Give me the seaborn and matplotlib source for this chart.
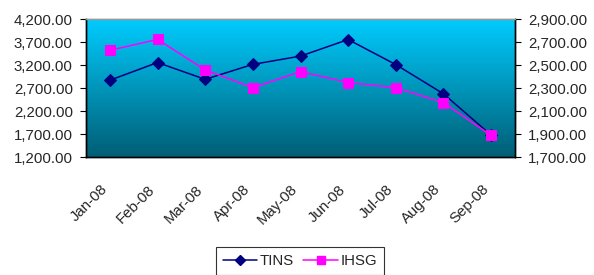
import numpy as np
import pandas as pd
import matplotlib
matplotlib.use("Agg")
import matplotlib.pyplot as plt
import seaborn as sns
from matplotlib.colors import LinearSegmentedColormap
from matplotlib.lines import Line2D

months = ["Jan-08", "Feb-08", "Mar-08", "Apr-08", "May-08", "Jun-08", "Jul-08", "Aug-08", "Sep-08"]
tins = [2875, 3260, 2895, 3220, 3400, 3760, 3215, 2580, 1680]
ihsg = [2630, 2725, 2460, 2305, 2445, 2350, 2305, 2175, 1890]
left_ticks = [1200, 1700, 2200, 2700, 3200, 3700, 4200]
right_ticks = [1700, 1900, 2100, 2300, 2500, 2700, 2900]

sns.set_theme(style="white")
plt.rcParams["font.family"] = ["Liberation Sans", "DejaVu Sans"]
FS = 10.8

df = pd.DataFrame({"month": months, "pos": np.arange(len(months)), "TINS": tins, "IHSG": ihsg})

fig = plt.figure(figsize=(5.94, 2.75), dpi=100)
ax = fig.add_axes([86/594, 1-157.3/275, (515-86)/594, (157.3-19.3)/275])
ax2 = ax.twinx()

# gradient background (cyan top -> dark teal bottom)
cmap = LinearSegmentedColormap.from_list("bg", ["#00CCFF", "#005E75"])
grad = np.linspace(0, 1, 256).reshape(-1, 1)
ax.imshow(grad, cmap=cmap, aspect="auto", extent=[0, 1, 0, 1], origin="upper",
          transform=ax.transAxes, zorder=0)

sns.lineplot(data=df, x="pos", y="TINS", ax=ax, color="#000080", marker="D",
             markersize=6, markeredgecolor="#000080", linewidth=1.1, zorder=3)
sns.lineplot(data=df, x="pos", y="IHSG", ax=ax2, color="#FF00FF", marker="s",
             markersize=7, markeredgecolor="#FF00FF", linewidth=1.1, zorder=3)

ax.set_xlim(-0.5, len(months) - 0.5)
ax.set_ylim(1200, 4200)
ax2.set_ylim(1700, 2900)
ax.set_yticks(left_ticks)
ax2.set_yticks(right_ticks)
ax.set_yticklabels([f"{v:,.2f}" for v in left_ticks], fontsize=FS)
ax2.set_yticklabels([f"{v:,.2f}" for v in right_ticks], fontsize=FS)
ax.set_xticks(np.arange(len(months)))
ax.set_xticklabels(months, rotation=45, ha="right", va="top",
                   rotation_mode="default", fontsize=FS)
ax.set_xticks(np.arange(len(months) + 1) - 0.5, minor=True)
ax.tick_params(axis="x", which="major", length=0, pad=18)
ax.tick_params(axis="x", which="minor", length=4, width=0.8, color="black", direction="out")
ax.tick_params(axis="y", length=4, width=0.8, color="black", direction="out", pad=5.5)
ax2.tick_params(axis="y", length=4, width=0.8, color="black", direction="out", pad=5.5)
ax.set_xlabel("")
ax.set_ylabel("")
ax2.set_ylabel("")

for a in (ax, ax2):
    for s in a.spines.values():
        s.set_visible(True)
        s.set_color("black")
        s.set_linewidth(1.0)
    a.spines["top"].set_color("#999999")

handles = [
    Line2D([], [], color="#000080", marker="D", markersize=5, linewidth=1.1),
    Line2D([], [], color="#FF00FF", marker="s", markersize=5.5, linewidth=1.1),
]
leg = fig.legend(handles, ["TINS", "IHSG"], loc="upper center",
                 bbox_to_anchor=(0.505, 1-247/275), ncol=2, frameon=True,
                 fancybox=False, edgecolor="black", fontsize=FS,
                 handlelength=2.3, columnspacing=0.6, handletextpad=0.2,
                 borderpad=0.45, borderaxespad=0)
leg.get_frame().set_linewidth(0.8)

fig.savefig("out.png", dpi=100, facecolor="white")
